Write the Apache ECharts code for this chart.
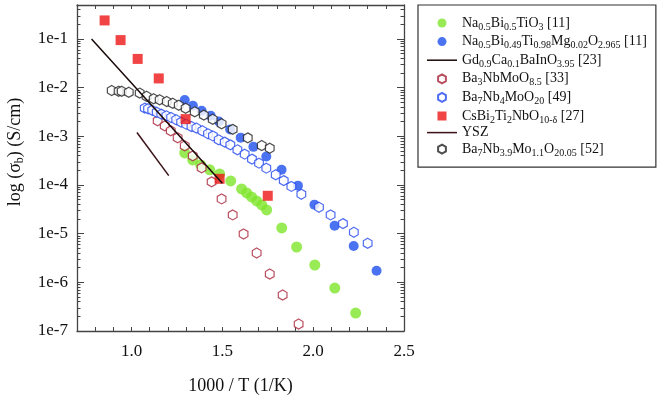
<!DOCTYPE html>
<html>
<head>
<meta charset="utf-8">
<script src="https://cdn.jsdelivr.net/npm/echarts@6/dist/echarts.min.js"></script>
<style>
  html, body { margin: 0; background: #fff; }
  #chart { width: 661px; height: 396px; }
</style>
</head>
<body>
<div id="chart"></div>
<script>
// 数据：1000/T 与 log(σb)
const nbtX = [1.293, 1.337, 1.381, 1.431, 1.485, 1.546, 1.606, 1.634, 1.661, 1.689, 1.717, 1.744, 1.827, 1.909, 2.009, 2.119, 2.234];
const nbtY = [4.57e-4, 3.28e-4, 2.59e-4, 2.05e-4, 1.69e-4, 1.21e-4, 8.31e-5, 6.88e-5, 5.69e-5, 4.71e-5, 3.90e-5, 3.08e-5, 1.31e-5, 5.32e-6, 2.27e-6, 7.63e-7, 2.33e-7];

const nbtMgX = [1.293, 1.338, 1.386, 1.436, 1.481, 1.543, 1.601, 1.671, 1.742, 1.826, 1.916, 2.007, 2.118, 2.223, 2.349];
const nbtMgY = [5.56e-3, 4.25e-3, 3.35e-3, 2.64e-3, 2.02e-3, 1.39e-3, 9.4e-4, 6.08e-4, 3.84e-4, 2.05e-4, 9.7e-5, 3.95e-5, 1.46e-5, 5.59e-6, 1.73e-6];

const gdX = [0.78, 1.50];
const gdY = [0.1, 1.09e-4];

const b3X = [1.144, 1.183, 1.216, 1.254, 1.293, 1.337, 1.386, 1.441, 1.496, 1.557, 1.617, 1.689, 1.761, 1.832, 1.920];
const b3Y = [2.08e-3, 1.64e-3, 1.30e-3, 9.31e-4, 6.38e-4, 3.97e-4, 2.25e-4, 1.16e-4, 5.18e-5, 2.43e-5, 9.87e-6, 4.01e-6, 1.48e-6, 5.48e-7, 1.39e-7];

const b7X = [1.073, 1.091, 1.114, 1.139, 1.164, 1.192, 1.218, 1.246, 1.273, 1.301, 1.330, 1.357, 1.390, 1.421, 1.448, 1.480, 1.513, 1.544, 1.583, 1.623, 1.663, 1.702, 1.742, 1.794, 1.838, 1.880, 1.935, 2.032, 2.096, 2.164, 2.224, 2.300];
const b7Y = [3.80e-3, 3.68e-3, 3.43e-3, 3.12e-3, 2.86e-3, 2.64e-3, 2.44e-3, 2.19e-3, 1.96e-3, 1.78e-3, 1.59e-3, 1.48e-3, 1.30e-3, 1.13e-3, 1.02e-3, 8.47e-4, 7.60e-4, 6.68e-4, 5.28e-4, 4.30e-4, 3.40e-4, 2.81e-4, 2.22e-4, 1.62e-4, 1.23e-4, 9.35e-5, 6.47e-5, 3.49e-5, 2.43e-5, 1.61e-5, 1.07e-5, 6.34e-6];

const csX = [0.852, 0.94, 1.034, 1.15, 1.298, 1.485, 1.75];
const csY = [0.241, 0.095, 0.039, 0.0155, 0.00226, 1.34e-4, 6.0e-5];

const yszX = [1.03, 1.205];
const yszY = [1.2e-3, 1.56e-4];

const b39X = [0.891, 0.929, 0.946, 0.985, 1.045, 1.083, 1.122, 1.155, 1.194, 1.227, 1.260, 1.298, 1.348, 1.398, 1.447, 1.496, 1.557, 1.640, 1.717, 1.761];
const b39Y = [8.75e-3, 8.43e-3, 8.43e-3, 8.04e-3, 7.74e-3, 6.65e-3, 5.91e-3, 5.64e-3, 5.20e-3, 4.78e-3, 4.35e-3, 3.77e-3, 3.19e-3, 2.73e-3, 2.24e-3, 1.81e-3, 1.39e-3, 9.3e-4, 6.47e-4, 5.71e-4];

// 坐标轴刻度标签
const xLabelValues = [1.0, 1.5, 2.0, 2.5];
const yLabelExps = [-7, -6, -5, -4, -3, -2, -1];

// 图例名称（_{...} 表示下标）
const names = [
  'Na_{0.5}Bi_{0.5}TiO_{3} [11]',
  'Na_{0.5}Bi_{0.49}Ti_{0.98}Mg_{0.02}O_{2.965} [11]',
  'Gd_{0.9}Ca_{0.1}BaInO_{3.95} [23]',
  'Ba_{3}NbMoO_{8.5} [33]',
  'Ba_{7}Nb_{4}MoO_{20} [49]',
  'CsBi_{2}Ti_{2}NbO_{10-δ} [27]',
  'YSZ',
  'Ba_{7}Nb_{3.9}Mo_{1.1}O_{20.05} [52]'
];

const FONT = '"Liberation Serif", "DejaVu Serif", serif';
const YMIN = 1e-7, YMAX = 0.5;
const HEX = 'path://M0,-1L0.866,-0.5L0.866,0.5L0,1L-0.866,0.5L-0.866,-0.5Z';
const SQUARE = 'path://M0,0H1V1H0Z';
const BAR = 'path://M0,0H30V1.5H0Z';

function zip(xs, ys) { return xs.map((x, i) => [x, ys[i]]); }

function toRich(str) {
  return str.split(/(_\{[^}]*\})/).filter(Boolean).map(p =>
    p.startsWith('_{') ? '{s|' + p.slice(2, -1) + '}' : '{n|' + p + '}'
  ).join('');
}

// 对数轴次刻度（2..9 × 10^n）
const minorTicks = [];
for (let e = -7; e <= -1; e++) {
  for (let k = 2; k <= 9; k++) {
    const v = k * Math.pow(10, e);
    if (v <= YMAX) minorTicks.push(v);
  }
}

const chartDom = document.getElementById('chart');
const chart = echarts.init(chartDom);

const axisLine = { lineStyle: { color: '#444', width: 1.3 } };

function scatter(name, xs, ys, symbol, size, style) {
  return {
    name, type: 'scatter', data: zip(xs, ys),
    symbol, symbolSize: size, symbolKeepAspect: true,
    itemStyle: style, xAxisIndex: 0, yAxisIndex: 0
  };
}
function line(name, xs, ys, color) {
  return {
    name, type: 'line', data: zip(xs, ys), symbol: 'none', showSymbol: false,
    lineStyle: { color, width: 1.5 }, itemStyle: { color },
    xAxisIndex: 0, yAxisIndex: 0
  };
}

const yMajorBase = {
  type: 'log', logBase: 10, min: YMIN, max: YMAX,
  splitLine: { show: false }, axisLine,
  axisTick: { inside: true, length: 7, lineStyle: { color: '#444' } }
};
const yMinorBase = {
  type: 'log', logBase: 10, min: YMIN, max: YMAX,
  splitLine: { show: false }, axisLine: { show: false },
  axisLabel: { show: false },
  axisTick: { inside: true, length: 3.5, customValues: minorTicks, lineStyle: { color: '#444' } }
};

// 图例项：线条系列只画线，方块用等比例图标
const legendData = names.map((n, i) => {
  if (i === 2 || i === 6) return { name: n, icon: BAR };
  if (i === 5) return { name: n, icon: SQUARE };
  return { name: n };
});

const option = {
  animation: false,
  backgroundColor: '#fff',
  grid: { left: 77, right: 257, top: 5, bottom: 65, outerBoundsMode: 'none' },
  xAxis: [
    {
      type: 'value', min: 0.7, max: 2.5, interval: 0.1, position: 'bottom',
      name: '1000 / T (1/K)', nameLocation: 'middle', nameGap: 46,
      nameTextStyle: { fontFamily: FONT, fontSize: 18, color: '#111' },
      splitLine: { show: false }, axisLine,
      axisTick: { inside: true, length: 4, lineStyle: { color: '#444' } },
      axisLabel: {
        fontFamily: FONT, fontSize: 17, color: '#111', margin: 12,
        formatter: v => xLabelValues.some(t => Math.abs(t - v) < 1e-6) ? v.toFixed(1) : ''
      }
    },
    {
      type: 'value', min: 0.7, max: 2.5, interval: 0.1, position: 'top',
      splitLine: { show: false }, axisLine,
      axisTick: { inside: true, length: 4, lineStyle: { color: '#444' } },
      axisLabel: { show: false }
    }
  ],
  yAxis: [
    Object.assign({}, yMajorBase, {
      position: 'left',
      name: '{n|log (σ}{s|b}{n|) (S/cm)}', nameLocation: 'middle', nameGap: 52,
      nameTextStyle: {
        fontFamily: FONT, fontSize: 18, color: '#111', padding: [0, 0, 0, 32],
        rich: {
          n: { fontFamily: FONT, fontSize: 18, color: '#111', lineHeight: 20 },
          s: { fontFamily: FONT, fontSize: 12, color: '#111', lineHeight: 12, padding: [9, 0, 0, 0] }
        }
      },
      axisLabel: {
        fontFamily: FONT, fontSize: 17, color: '#111', margin: 9,
        formatter: v => {
          const e = Math.round(Math.log10(v));
          return (yLabelExps.includes(e) && Math.abs(Math.log10(v) - e) < 1e-6) ? '1e' + e : '';
        }
      }
    }),
    Object.assign({}, yMinorBase, { position: 'left' }),
    Object.assign({}, yMajorBase, { position: 'right', axisLabel: { show: false } }),
    Object.assign({}, yMinorBase, { position: 'right' })
  ],
  legend: {
    orient: 'vertical', left: 418, top: 5,
    padding: [9, 9, 9, 9],
    borderColor: '#333', borderWidth: 1.2,
    itemWidth: 30, itemHeight: 9, itemGap: 0.6,
    symbolKeepAspect: true,
    data: legendData,
    formatter: name => toRich(name),
    textStyle: {
      fontFamily: FONT, fontSize: 14, color: '#111',
      rich: {
        n: { fontFamily: FONT, fontSize: 14, color: '#111', lineHeight: 18 },
        s: { fontFamily: FONT, fontSize: 10, color: '#111', lineHeight: 10, padding: [8, 0, 0, 0] }
      }
    }
  },
  series: [
    scatter(names[0], nbtX, nbtY, 'circle', 11, { color: '#7fe62c' }),
    scatter(names[1], nbtMgX, nbtMgY, 'circle', 10, { color: '#1e50ee' }),
    line(names[2], gdX, gdY, '#1a0808'),
    scatter(names[3], b3X, b3Y, HEX, 10, { color: '#fff', borderColor: '#a8243a', borderWidth: 1.2 }),
    scatter(names[4], b7X, b7Y, HEX, 10, { color: '#fff', borderColor: '#2448ee', borderWidth: 1.2 }),
    scatter(names[5], csX, csY, 'rect', 10, { color: '#ee1515' }),
    line(names[6], yszX, yszY, '#3a1218'),
    scatter(names[7], b39X, b39Y, HEX, 10, { color: '#fff', borderColor: '#222', borderWidth: 1.2 })
  ]
};

chart.setOption(option);
window.addEventListener('resize', () => chart.resize());
</script>
</body>
</html>
